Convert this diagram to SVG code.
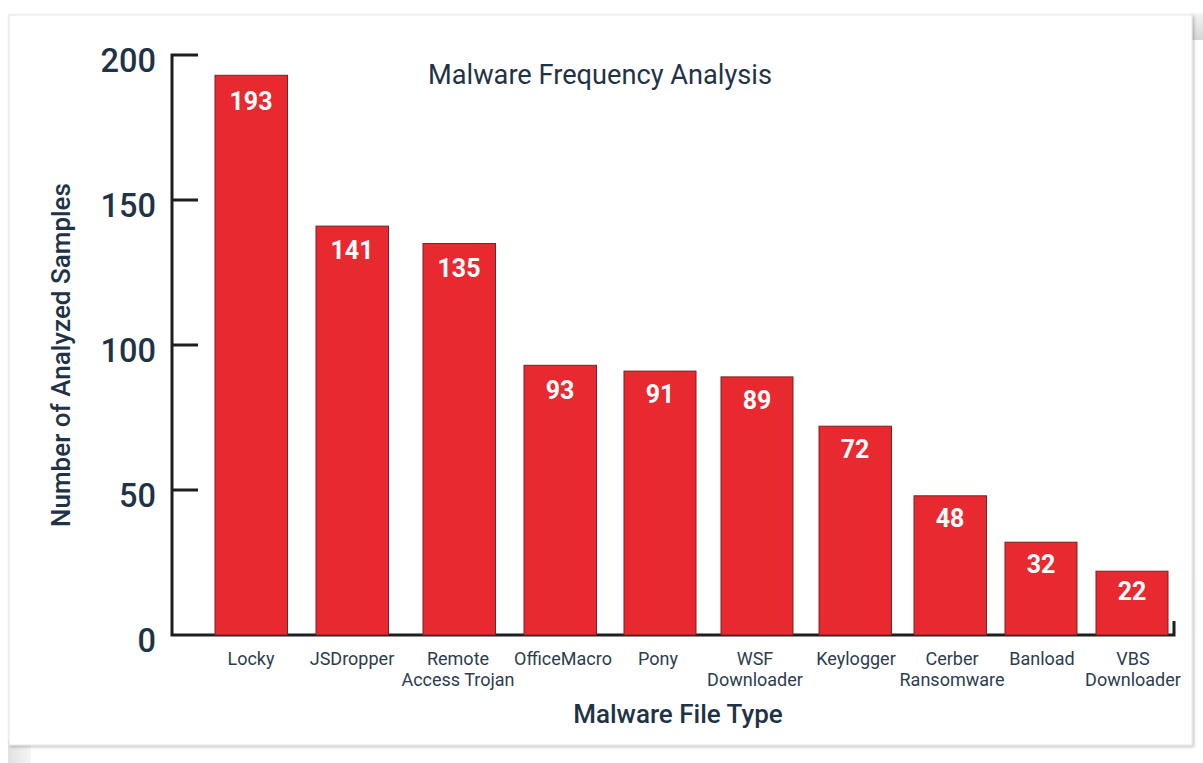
<svg xmlns="http://www.w3.org/2000/svg" width="1203" height="763" viewBox="0 0 1203 763">
  <style>
    .bar { fill: #e8292f; stroke: #7a2222; stroke-width: 1; }
    .val { font-family: Roboto, "Liberation Sans", sans-serif; font-weight: 700; font-size: 25px; fill: #ffffff; text-anchor: middle; }
    .cat { font-family: Roboto, "Liberation Sans", sans-serif; font-size: 18px; fill: #2b3d4f; text-anchor: middle; }
    .tick { font-family: Roboto, "Liberation Sans", sans-serif; font-weight: 500; font-size: 32.5px; fill: #1f3347; text-anchor: end; }
    .axis { stroke: #1e1e1e; stroke-width: 3; fill: none; }
    .ttl { font-family: Roboto, "Liberation Sans", sans-serif; fill: #1f3347; }
  </style>
  <defs>
    <linearGradient id="backTop" x1="0" y1="0" x2="0" y2="1">
      <stop offset="0" stop-color="#f4f4f4"/>
      <stop offset="1" stop-color="#d6d6d6"/>
    </linearGradient>
    <linearGradient id="backBottom" x1="0" y1="0" x2="1" y2="0">
      <stop offset="0" stop-color="#e2e2e2"/>
      <stop offset="1" stop-color="#f6f6f6"/>
    </linearGradient>
    <filter id="cardShadow" x="-2%" y="-2%" width="104%" height="104%">
      <feDropShadow dx="1.5" dy="1.5" stdDeviation="1.5" flood-color="#000" flood-opacity="0.25"/>
    </filter>
  </defs>

  <rect width="1203" height="763" fill="#ffffff"/>

  <!-- sheet behind the card -->
  <rect x="1190" y="13" width="13" height="27" fill="url(#backTop)"/>
  <rect x="8" y="740" width="23" height="23" fill="url(#backBottom)"/>

  <!-- card -->
  <rect x="9" y="15" width="1183" height="730" fill="#ffffff" stroke="#e4e4e4" stroke-width="1" filter="url(#cardShadow)"/>

  <!-- title -->
  <text class="ttl" x="600" y="84" font-size="27.2" text-anchor="middle">Malware Frequency Analysis</text>

  <!-- axes -->
  <g id="axes">
    <path class="axis" d="M198,55 H172 V635 H1174 V621"/>
    <path class="axis" d="M172,200 H198 M172,345 H198 M172,490 H198"/>
    <text class="tick" x="156" y="72">200</text>
    <text class="tick" x="156" y="217">150</text>
    <text class="tick" x="156" y="362">100</text>
    <text class="tick" x="156" y="507">50</text>
    <text class="tick" x="156" y="652">0</text>
    <text class="ttl" font-size="26" font-weight="500" text-anchor="middle" transform="translate(70,355) rotate(-90)">Number of Analyzed Samples</text>
    <text class="ttl" x="678" y="723" font-size="26" font-weight="500" text-anchor="middle">Malware File Type</text>
  </g>

  <!-- bars: 2.9 px per sample, baseline y=635 -->
  <g id="bar-locky">
    <rect class="bar" x="215" y="75.3" width="72.5" height="559.7"/>
    <text class="val" x="251" y="110">193</text>
    <text class="cat" x="251" y="665">Locky</text>
  </g>
  <g id="bar-jsdropper">
    <rect class="bar" x="316" y="226.1" width="72.5" height="408.9"/>
    <text class="val" x="352" y="259">141</text>
    <text class="cat" x="352" y="665">JSDropper</text>
  </g>
  <g id="bar-rat">
    <rect class="bar" x="423" y="243.5" width="72.5" height="391.5"/>
    <text class="val" x="459" y="277">135</text>
    <text class="cat" x="458" y="665">Remote</text>
    <text class="cat" x="458" y="686">Access Trojan</text>
  </g>
  <g id="bar-officemacro">
    <rect class="bar" x="524" y="365.3" width="72.5" height="269.7"/>
    <text class="val" x="560" y="399">93</text>
    <text class="cat" x="563" y="665">OfficeMacro</text>
  </g>
  <g id="bar-pony">
    <rect class="bar" x="624" y="371.1" width="72" height="263.9"/>
    <text class="val" x="660" y="403">91</text>
    <text class="cat" x="658" y="665">Pony</text>
  </g>
  <g id="bar-wsf">
    <rect class="bar" x="721" y="376.9" width="72" height="258.1"/>
    <text class="val" x="757" y="409">89</text>
    <text class="cat" x="755" y="665">WSF</text>
    <text class="cat" x="755" y="686">Downloader</text>
  </g>
  <g id="bar-keylogger">
    <rect class="bar" x="819" y="426.2" width="72.5" height="208.8"/>
    <text class="val" x="855" y="458">72</text>
    <text class="cat" x="856" y="665">Keylogger</text>
  </g>
  <g id="bar-cerber">
    <rect class="bar" x="914" y="495.8" width="72.5" height="139.2"/>
    <text class="val" x="950" y="527">48</text>
    <text class="cat" x="952" y="665">Cerber</text>
    <text class="cat" x="952" y="686">Ransomware</text>
  </g>
  <g id="bar-banload">
    <rect class="bar" x="1005" y="542.2" width="72" height="92.8"/>
    <text class="val" x="1041" y="573">32</text>
    <text class="cat" x="1042" y="665">Banload</text>
  </g>
  <g id="bar-vbs">
    <rect class="bar" x="1096" y="571.2" width="72" height="63.8"/>
    <text class="val" x="1132" y="600">22</text>
    <text class="cat" x="1133" y="665">VBS</text>
    <text class="cat" x="1133" y="686">Downloader</text>
  </g>
</svg>
